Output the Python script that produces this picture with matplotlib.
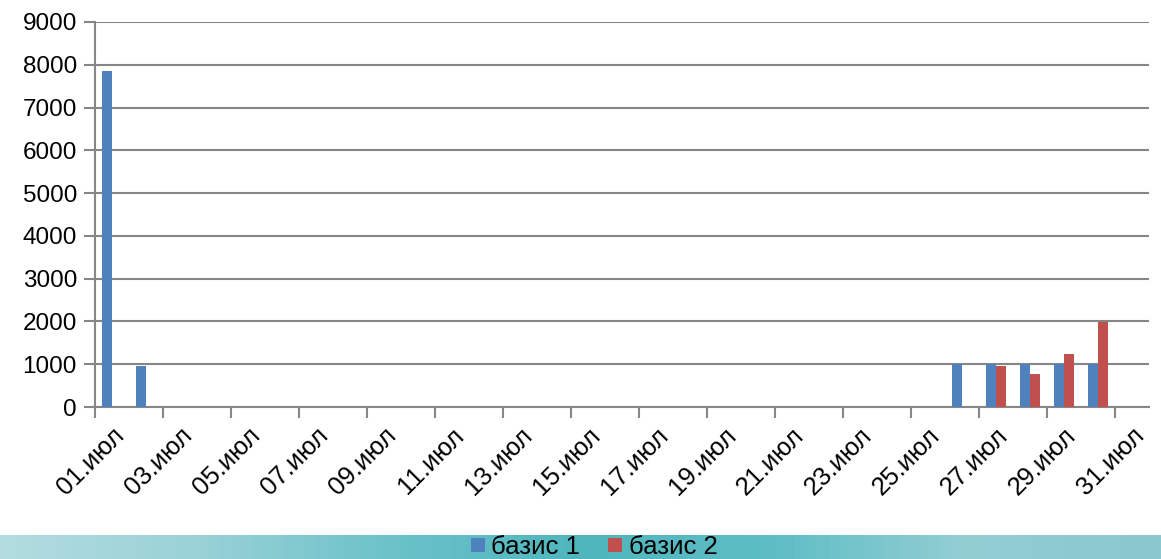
import numpy as np
import matplotlib
matplotlib.use("Agg")
import matplotlib.pyplot as plt
from matplotlib.colors import LinearSegmentedColormap

plt.rcParams['font.family'] = ['Liberation Sans', 'DejaVu Sans']

days = np.arange(1, 32)
labels = ['%02d.июл' % d for d in range(1, 32, 2)]

# values per day (0 where no bar)
basis1 = np.zeros(31)
basis1[0] = 7850
basis1[1] = 950
basis1[25:30] = [1000, 1000, 1000, 1000, 1000]

basis2 = np.zeros(31)
basis2[26:30] = [950, 780, 1250, 1980]

grey = '#868686'

fig = plt.figure(figsize=(11.61, 5.59), dpi=100)

# teal band behind the legend
band = fig.add_axes([0, 0, 1, 24/559])
cmap = LinearSegmentedColormap.from_list('band', ['#b2dce0', '#9ad2d7', '#6cc2c9', '#4fb6be', '#5ebdc5', '#93ced3', '#88c8ce'])
grad = np.linspace(0, 1, 256).reshape(1, -1)
band.imshow(grad, aspect='auto', cmap=cmap, extent=[0, 1, 0, 1])
band.set_axis_off()

ax = fig.add_axes([95/1161, 1 - 407/559, 1054/1161, 385/559])
w = 0.3
ax.bar(days - w/2, basis1, width=w, color='#4f81bd', label='базис 1', zorder=3)
ax.bar(days + w/2, basis2, width=w, color='#c0504d', label='базис 2', zorder=3)

ax.set_xlim(0.5, 31.5)
ax.set_ylim(0, 9000)
ax.set_yticks(np.arange(0, 9001, 1000))
ax.yaxis.grid(True, color=grey, linewidth=1.5, zorder=0)

# ticks on category edges, labels on category centres
ax.set_xticks(np.arange(0.5, 31.6, 2))
ax.set_xticklabels([])
ax.set_xticks(np.arange(1, 32, 2), minor=True)
ax.set_xticklabels(labels, minor=True, rotation=45, ha='right', va='top',
                   rotation_mode='anchor', fontsize=18.5)
ax.tick_params(axis='x', which='minor', length=0, pad=12)
ax.tick_params(axis='x', which='major', length=8, width=1.5, color=grey)
ax.tick_params(axis='y', length=8, width=1.5, color=grey, labelsize=17.5, pad=5)

for s in ['top', 'right']:
    ax.spines[s].set_visible(False)
for s in ['left', 'bottom']:
    ax.spines[s].set_color(grey)
    ax.spines[s].set_linewidth(1.5)

fig.legend(loc='center', bbox_to_anchor=(594/1161, 12/559), ncol=2, frameon=False,
           fontsize=18.5, handlelength=0.55, handleheight=0.5, handletextpad=0.25,
           columnspacing=1.1, borderaxespad=0, borderpad=0)

fig.savefig('out.png', dpi=100)
